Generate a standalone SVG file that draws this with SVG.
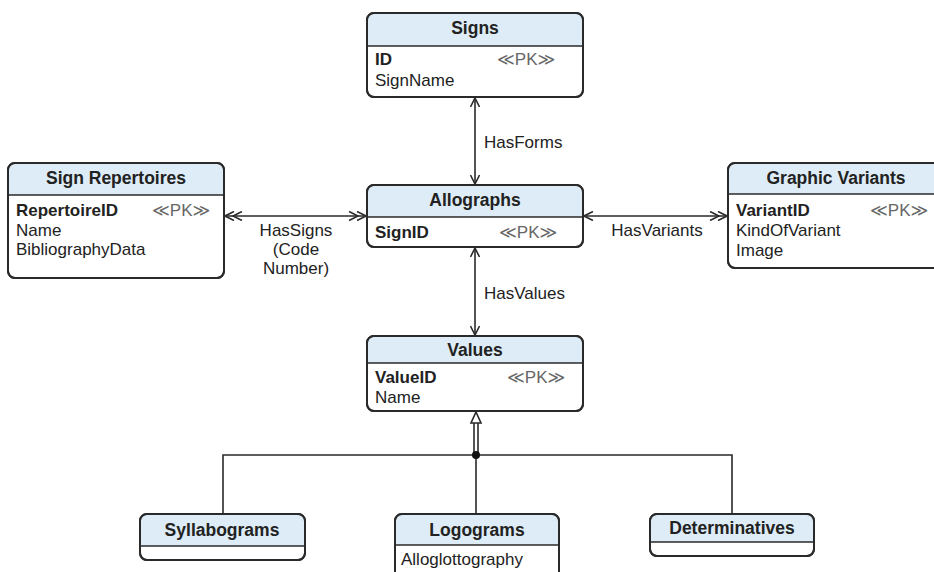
<svg xmlns="http://www.w3.org/2000/svg" width="934" height="572" viewBox="0 0 934 572">
<style>
  .box{fill:#fff;stroke:#2a2a2a;stroke-width:2}
  .hdr{fill:#ddecf6}
  .sep{stroke:#2a2a2a;stroke-width:1.5}
  text{font-family:"Liberation Sans",Arial,"DejaVu Sans",sans-serif;font-size:17px;fill:#222}
  .title{font-weight:bold;text-anchor:middle;font-size:17.5px}
  .key{font-weight:bold}
  .pk{fill:#666}
  .lbl{text-anchor:middle}
  .conn{stroke:#2a2a2a;stroke-width:1.6;fill:none}
</style>
<defs>
  <marker id="a1" viewBox="0 0 10 10" refX="10" refY="5" markerWidth="10" markerHeight="10" markerUnits="userSpaceOnUse" orient="auto-start-reverse">
    <path d="M1,0.5 L10,5 L1,9.5" fill="none" stroke="#2a2a2a" stroke-width="1.6"/>
  </marker>
  <marker id="a2" viewBox="0 0 18 10" refX="18" refY="5" markerWidth="18" markerHeight="10" markerUnits="userSpaceOnUse" orient="auto-start-reverse">
    <path d="M1,0.5 L10,5 L1,9.5 M9,0.5 L18,5 L9,9.5" fill="none" stroke="#2a2a2a" stroke-width="1.6"/>
  </marker>
</defs>

<g id="connectors">
  <line class="conn" x1="475" y1="98" x2="475" y2="184" marker-start="url(#a1)" marker-end="url(#a1)"/>
  <line class="conn" x1="475" y1="248" x2="475" y2="335" marker-start="url(#a1)" marker-end="url(#a1)"/>
  <line class="conn" x1="225" y1="216" x2="366" y2="216" marker-start="url(#a2)" marker-end="url(#a2)"/>
  <line class="conn" x1="584" y1="216" x2="727" y2="216" marker-start="url(#a1)" marker-end="url(#a2)"/>
  <text class="lbl" x="296" y="236">HasSigns</text>
  <text class="lbl" x="296" y="255">(Code</text>
  <text class="lbl" x="296" y="274">Number)</text>
  <text class="lbl" x="657" y="236">HasVariants</text>
  <text x="484" y="148">HasForms</text>
  <text x="484" y="299">HasValues</text>
  <polyline class="conn" points="223,514 223,455 732,455 732,514"/>
  <line class="conn" x1="476" y1="455" x2="476" y2="514"/>
  <line class="conn" x1="474" y1="423" x2="474" y2="455"/>
  <line class="conn" x1="478" y1="423" x2="478" y2="455"/>
  <path d="M476,412 L481,423 L471,423 Z" fill="#fff" stroke="#2a2a2a" stroke-width="1.6"/>
  <circle cx="476" cy="455" r="4" fill="#111"/>
</g>

<g id="signs">
  <rect class="box" x="367" y="13" width="216" height="84" rx="7"/>
  <path class="hdr" d="M368,46 V20 a6,6 0 0 1 6,-6 H576 a6,6 0 0 1 6,6 V46 Z"/>
  <rect x="367" y="13" width="216" height="84" rx="7" fill="none" stroke="#2a2a2a" stroke-width="2"/>
  <line class="sep" x1="367" y1="46" x2="583" y2="46"/>
  <text class="title" x="475" y="34">Signs</text>
  <text class="key" x="375" y="65">ID</text>
  <text class="pk" x="497" y="65">≪PK≫</text>
  <text x="375" y="86">SignName</text>
</g>

<g id="allographs">
  <rect class="box" x="367" y="185" width="216" height="62" rx="7"/>
  <path class="hdr" d="M368,217 V192 a6,6 0 0 1 6,-6 H576 a6,6 0 0 1 6,6 V217 Z"/>
  <rect x="367" y="185" width="216" height="62" rx="7" fill="none" stroke="#2a2a2a" stroke-width="2"/>
  <line class="sep" x1="367" y1="217" x2="583" y2="217"/>
  <text class="title" x="475" y="206">Allographs</text>
  <text class="key" x="375" y="238">SignID</text>
  <text class="pk" x="499" y="238">≪PK≫</text>
</g>

<g id="sign-repertoires">
  <rect class="box" x="8" y="163" width="216" height="115" rx="7"/>
  <path class="hdr" d="M9,195 V170 a6,6 0 0 1 6,-6 H217 a6,6 0 0 1 6,6 V195 Z"/>
  <rect x="8" y="163" width="216" height="115" rx="7" fill="none" stroke="#2a2a2a" stroke-width="2"/>
  <line class="sep" x1="8" y1="195" x2="224" y2="195"/>
  <text class="title" x="116" y="184">Sign Repertoires</text>
  <text class="key" x="16" y="216">RepertoireID</text>
  <text class="pk" x="152" y="216">≪PK≫</text>
  <text x="16" y="236">Name</text>
  <text x="16" y="255">BibliographyData</text>
</g>

<g id="graphic-variants">
  <rect class="box" x="728" y="163" width="216" height="105" rx="7"/>
  <path class="hdr" d="M729,194 V170 a6,6 0 0 1 6,-6 H937 a6,6 0 0 1 6,6 V194 Z"/>
  <rect x="728" y="163" width="216" height="105" rx="7" fill="none" stroke="#2a2a2a" stroke-width="2"/>
  <line class="sep" x1="728" y1="194" x2="944" y2="194"/>
  <text class="title" x="836" y="184">Graphic Variants</text>
  <text class="key" x="736" y="216">VariantID</text>
  <text class="pk" x="870" y="216">≪PK≫</text>
  <text x="736" y="236">KindOfVariant</text>
  <text x="736" y="256">Image</text>
</g>

<g id="values">
  <rect class="box" x="367" y="336" width="216" height="75" rx="7"/>
  <path class="hdr" d="M368,363 V343 a6,6 0 0 1 6,-6 H576 a6,6 0 0 1 6,6 V363 Z"/>
  <rect x="367" y="336" width="216" height="75" rx="7" fill="none" stroke="#2a2a2a" stroke-width="2"/>
  <line class="sep" x1="367" y1="363" x2="583" y2="363"/>
  <text class="title" x="475" y="356">Values</text>
  <text class="key" x="375" y="383">ValueID</text>
  <text class="pk" x="507" y="383">≪PK≫</text>
  <text x="375" y="403">Name</text>
</g>

<g id="syllabograms">
  <rect class="box" x="140" y="514" width="165" height="46" rx="7"/>
  <path class="hdr" d="M141,546 V521 a6,6 0 0 1 6,-6 H298 a6,6 0 0 1 6,6 V546 Z"/>
  <rect x="140" y="514" width="165" height="46" rx="7" fill="none" stroke="#2a2a2a" stroke-width="2"/>
  <line class="sep" x1="140" y1="546" x2="305" y2="546"/>
  <text class="title" x="222" y="536">Syllabograms</text>
</g>

<g id="logograms">
  <rect class="box" x="395" y="514" width="164" height="70" rx="7"/>
  <path class="hdr" d="M396,545 V521 a6,6 0 0 1 6,-6 H552 a6,6 0 0 1 6,6 V545 Z"/>
  <rect x="395" y="514" width="164" height="70" rx="7" fill="none" stroke="#2a2a2a" stroke-width="2"/>
  <line class="sep" x1="395" y1="545" x2="559" y2="545"/>
  <text class="title" x="477" y="536">Logograms</text>
  <text x="401" y="565">Alloglottography</text>
</g>

<g id="determinatives">
  <rect class="box" x="650" y="514" width="164" height="42" rx="7"/>
  <path class="hdr" d="M651,542 V521 a6,6 0 0 1 6,-6 H807 a6,6 0 0 1 6,6 V542 Z"/>
  <rect x="650" y="514" width="164" height="42" rx="7" fill="none" stroke="#2a2a2a" stroke-width="2"/>
  <line class="sep" x1="650" y1="542" x2="814" y2="542"/>
  <text class="title" x="732" y="534">Determinatives</text>
</g>
</svg>
